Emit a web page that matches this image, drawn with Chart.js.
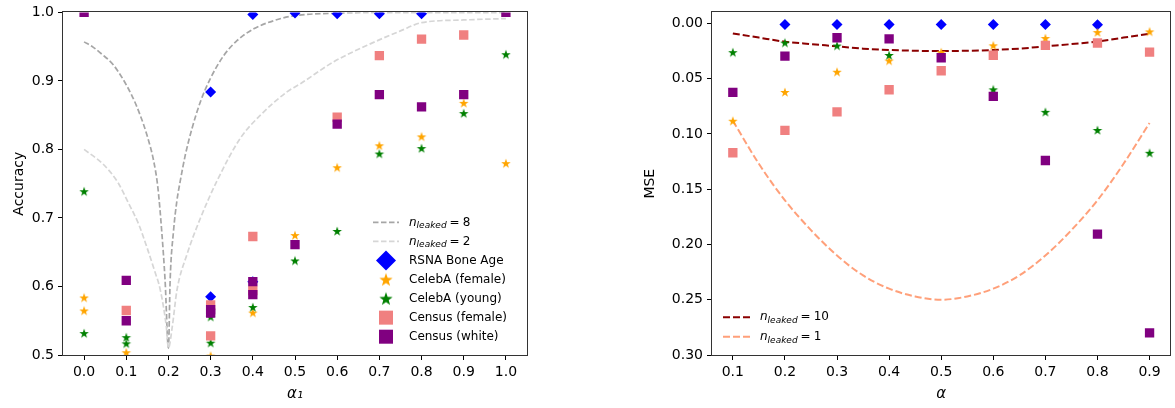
<!DOCTYPE html>
<html>
<head>
<meta charset="utf-8">
<script src="https://cdn.jsdelivr.net/npm/chart.js@4.4.1/dist/chart.umd.min.js"></script>
<style>
  body { margin: 0; background: #fff; width: 1175px; height: 408px; overflow: hidden; position: relative; }
  canvas { position: absolute; top: 0; }
  #acc { left: 0; }
  #mse { left: 630px; }
</style>
</head>
<body>
<canvas id="acc" width="540" height="408"></canvas>
<canvas id="mse" width="547" height="408"></canvas>
<script>
// ---- left panel: accuracy vs alpha_1 ----
const accTicksX = [0.0, 0.1, 0.2, 0.3, 0.4, 0.5, 0.6, 0.7, 0.8, 0.9, 1.0];
const accTicksY = [0.5, 0.6, 0.7, 0.8, 0.9, 1.0];
const seriesNames = ['RSNA Bone Age', 'CelebA (female)', 'CelebA (young)', 'Census (female)', 'Census (white)'];
const nLeakedLeft = [8, 2];
const nLeakedRight = [10, 1];

const curve8X = [0, 0.022, 0.046, 0.07, 0.113, 0.133, 0.149, 0.165, 0.175, 0.184, 0.192, 0.2, 0.204, 0.212, 0.22, 0.228, 0.24, 0.256, 0.276, 0.299, 0.331, 0.363, 0.402, 0.45, 0.497, 0.6, 0.7, 0.8, 0.9, 1.0];
const curve8Y = [0.957, 0.949, 0.937, 0.923, 0.879, 0.850, 0.821, 0.783, 0.744, 0.681, 0.609, 0.51, 0.609, 0.681, 0.725, 0.754, 0.792, 0.831, 0.870, 0.903, 0.937, 0.959, 0.976, 0.988, 0.995, 0.999, 1.0, 1.0, 1.0, 1.0];
const curve2X = [0, 0.046, 0.08, 0.105, 0.13, 0.149, 0.166, 0.181, 0.195, 0.2, 0.209, 0.22, 0.244, 0.276, 0.315, 0.37, 0.418, 0.481, 0.513, 0.592, 0.671, 0.75, 0.8, 0.9, 1.0];
const curve2Y = [0.800, 0.778, 0.752, 0.722, 0.690, 0.657, 0.625, 0.594, 0.541, 0.51, 0.541, 0.594, 0.647, 0.700, 0.754, 0.816, 0.850, 0.884, 0.896, 0.928, 0.952, 0.973, 0.985, 0.989, 0.991];

const accRsnaX = [0.3, 0.3, 0.4, 0.4, 0.5, 0.6, 0.7, 0.8];
const accRsnaY = [0.884, 0.585, 0.997, 0.607, 0.999, 0.998, 0.998, 0.998];
const accCelebFX = [0.0, 0.0, 0.1, 0.3, 0.4, 0.5, 0.6, 0.7, 0.8, 0.9, 1.0];
const accCelebFY = [0.584, 0.565, 0.504, 0.499, 0.562, 0.675, 0.774, 0.806, 0.819, 0.868, 0.780];
const accCelebYX = [0.0, 0.0, 0.1, 0.1, 0.3, 0.3, 0.4, 0.5, 0.6, 0.7, 0.8, 0.9, 1.0];
const accCelebYY = [0.739, 0.532, 0.526, 0.517, 0.556, 0.518, 0.570, 0.638, 0.681, 0.794, 0.802, 0.853, 0.939];
const accCensusFX = [0.1, 0.3, 0.3, 0.4, 0.4, 0.6, 0.7, 0.8, 0.9];
const accCensusFY = [0.565, 0.573, 0.528, 0.673, 0.594, 0.847, 0.937, 0.961, 0.967];
const accCensusWX = [0.0, 0.1, 0.1, 0.3, 0.3, 0.4, 0.4, 0.5, 0.6, 0.7, 0.8, 0.9, 1.0];
const accCensusWY = [1.0, 0.609, 0.550, 0.566, 0.561, 0.607, 0.588, 0.661, 0.837, 0.880, 0.862, 0.880, 1.0];

// ---- right panel: MSE vs alpha ----
const mseTicksX = [0.1, 0.2, 0.3, 0.4, 0.5, 0.6, 0.7, 0.8, 0.9];
const mseTicksY = [0.00, 0.05, 0.10, 0.15, 0.20, 0.25, 0.30];
const mseCurveX = [0.1, 0.15, 0.2, 0.25, 0.3, 0.35, 0.4, 0.45, 0.5, 0.55, 0.6, 0.65, 0.7, 0.75, 0.8, 0.85, 0.9];
const mseCurve10 = [0.009, 0.0128, 0.0165, 0.0187, 0.0207, 0.0228, 0.024, 0.0247, 0.025, 0.0247, 0.024, 0.0228, 0.0207, 0.0187, 0.0163, 0.0128, 0.0093];
const mseCurve1 = [0.088, 0.127, 0.16, 0.187, 0.21, 0.228, 0.24, 0.247, 0.25, 0.247, 0.24, 0.228, 0.21, 0.187, 0.16, 0.127, 0.09];

const mseRsnaX = [0.2, 0.3, 0.4, 0.5, 0.6, 0.7, 0.8];
const mseRsnaY = [0.001, 0.001, 0.001, 0.001, 0.001, 0.001, 0.0012];
const mseCelebFX = [0.1, 0.2, 0.3, 0.4, 0.5, 0.6, 0.7, 0.8, 0.9];
const mseCelebFY = [0.088, 0.062, 0.0437, 0.0335, 0.026, 0.0198, 0.0132, 0.0078, 0.0072];
const mseCelebYX = [0.1, 0.2, 0.3, 0.4, 0.6, 0.7, 0.8, 0.9];
const mseCelebYY = [0.026, 0.0173, 0.020, 0.0285, 0.0596, 0.080, 0.0964, 0.117];
const mseCensusFX = [0.1, 0.2, 0.3, 0.4, 0.5, 0.6, 0.7, 0.8, 0.9];
const mseCensusFY = [0.117, 0.0967, 0.080, 0.060, 0.0428, 0.0288, 0.0198, 0.0177, 0.026];
const mseCensusWX = [0.1, 0.2, 0.3, 0.4, 0.5, 0.6, 0.7, 0.8, 0.9];
const mseCensusWY = [0.0623, 0.0296, 0.0129, 0.014, 0.031, 0.066, 0.124, 0.1907, 0.280];

Chart.defaults.font.family = "'DejaVu Sans', sans-serif";
Chart.defaults.font.size = 14;
Chart.defaults.color = '#000';

const BLUE = '#0000ff', ORANGE = '#ffa500', GREEN = '#008000', PINK = '#f08080', PURPLE = '#800080';

function starImage(r, color) {
  const c = document.createElement('canvas');
  const s = Math.ceil(2 * r + 2);
  c.width = s; c.height = s;
  const g = c.getContext('2d');
  g.fillStyle = color;
  g.beginPath();
  for (let i = 0; i < 10; i++) {
    const rr = i % 2 ? r * 0.4 : r;
    const a = -Math.PI / 2 + i * Math.PI / 5;
    const px = s / 2 + rr * Math.cos(a), py = s / 2 + 0.6 + rr * Math.sin(a);
    if (i) g.lineTo(px, py); else g.moveTo(px, py);
  }
  g.closePath();
  g.fill();
  return c;
}
const starO = starImage(5, ORANGE), starG = starImage(5, GREEN);
const starOBig = starImage(7, ORANGE), starGBig = starImage(7, GREEN);

function pts(xs, ys) { return xs.map((x, i) => ({ x: x, y: ys[i] })); }

const frame = {
  id: 'frame',
  afterDatasetsDraw(chart) {
    const { ctx, chartArea: a } = chart;
    ctx.save();
    ctx.strokeStyle = '#333';
    ctx.lineWidth = 1;
    ctx.strokeRect(Math.round(a.left) - 0.5, Math.round(a.top) - 0.5, Math.round(a.right - a.left) + 1, Math.round(a.bottom - a.top) + 1);
    ctx.restore();
  }
};

function leakedLabel(ctx, x, y, n) {
  ctx.fillStyle = '#000';
  ctx.textAlign = 'left';
  ctx.textBaseline = 'middle';
  ctx.font = "italic 12px 'DejaVu Sans'";
  ctx.fillText('n', x, y);
  x += ctx.measureText('n').width;
  ctx.font = "italic 9px 'DejaVu Sans'";
  ctx.fillText('leaked', x, y + 3.5);
  x += ctx.measureText('leaked').width + 3;
  ctx.font = "12px 'DejaVu Sans'";
  ctx.fillText('=', x, y);
  x += ctx.measureText('=').width + 3;
  ctx.fillText(String(n), x, y);
}

function legend(id, entries, hx0, hx1, tx, y0, dy) {
  return {
    id: id,
    afterDraw(chart) {
      const ctx = chart.ctx;
      const hc = (hx0 + hx1) / 2;
      ctx.save();
      entries.forEach((e, i) => {
        const y = y0 + i * dy;
        if (e.kind === 'line') {
          ctx.strokeStyle = e.color;
          ctx.lineWidth = e.width;
          ctx.setLineDash(e.dash);
          ctx.beginPath();
          ctx.moveTo(hx0, y); ctx.lineTo(hx1, y);
          ctx.stroke();
          ctx.setLineDash([]);
          leakedLabel(ctx, tx, y, e.n);
          return;
        }
        ctx.fillStyle = e.color;
        if (e.kind === 'diamond') {
          ctx.beginPath();
          ctx.moveTo(hc - 10, y); ctx.lineTo(hc, y - 10); ctx.lineTo(hc + 10, y); ctx.lineTo(hc, y + 10);
          ctx.closePath(); ctx.fill();
        } else if (e.kind === 'square') {
          ctx.fillRect(hc - 7, y - 7, 14, 14);
        } else {
          ctx.drawImage(e.img, hc - e.img.width / 2, y - e.img.height / 2);
        }
        ctx.fillStyle = '#000';
        ctx.font = "12px 'DejaVu Sans'";
        ctx.textAlign = 'left';
        ctx.textBaseline = 'middle';
        ctx.fillText(e.label, tx, y);
      });
      ctx.restore();
    }
  };
}

function axisOpts(min, max, ticks, digits, fitSize, horizontal, title, titleFont, titlePad) {
  return {
    type: 'linear', min: min, max: max,
    afterBuildTicks: s => { s.ticks = ticks.map(v => ({ value: v })); },
    afterFit: s => { if (horizontal) s.height = fitSize; else s.width = fitSize; },
    grid: { drawOnChartArea: false, drawTicks: true, tickLength: 5, tickColor: '#000', tickWidth: 1 },
    border: { display: false },
    ticks: { padding: 4, autoSkip: false, maxRotation: 0, callback: v => Number(v).toFixed(digits) },
    title: { display: true, text: title, font: titleFont, padding: titlePad }
  };
}

const dashedGray = { type: 'line', pointRadius: 0, borderDash: [5.5, 2.5], borderWidth: 1.7, cubicInterpolationMode: 'monotone', fill: false };

new Chart(document.getElementById('acc'), {
  type: 'scatter',
  data: {
    datasets: [
      Object.assign({ label: 'n8', data: pts(curve8X, curve8Y), borderColor: '#a6a6a6', order: 6 }, dashedGray),
      Object.assign({ label: 'n2', data: pts(curve2X, curve2Y), borderColor: '#d6d6d6', order: 5 }, dashedGray),
      { label: seriesNames[0], data: pts(accRsnaX, accRsnaY), pointStyle: 'rectRot', pointRadius: 5.5, backgroundColor: BLUE, borderWidth: 0, order: 4 },
      { label: seriesNames[1], data: pts(accCelebFX, accCelebFY), pointStyle: starO, order: 3 },
      { label: seriesNames[2], data: pts(accCelebYX, accCelebYY), pointStyle: starG, order: 2 },
      { label: seriesNames[3], data: pts(accCensusFX, accCensusFY), pointStyle: 'rect', pointRadius: 6.6, backgroundColor: PINK, borderWidth: 0, order: 1 },
      { label: seriesNames[4], data: pts(accCensusWX, accCensusWY), pointStyle: 'rect', pointRadius: 6.6, backgroundColor: PURPLE, borderWidth: 0, order: 0 }
    ]
  },
  options: {
    responsive: false, animation: false, events: [],
    layout: { padding: { left: 0, top: 10, right: 13, bottom: 0 } },
    plugins: { legend: { display: false }, tooltip: { enabled: false } },
    scales: {
      x: axisOpts(-0.05, 1.05, accTicksX, 1, 53, true, 'α₁', { size: 15, style: 'italic' }, { top: 0, bottom: 5 }),
      y: axisOpts(0.5, 1.0, accTicksY, 1, 63, false, 'Accuracy', { size: 14 }, { top: 11, bottom: 0 })
    }
  },
  plugins: [frame, legend('accLegend', [
    { kind: 'line', color: '#a6a6a6', width: 1.7, dash: [5.5, 2.5], n: nLeakedLeft[0] },
    { kind: 'line', color: '#d6d6d6', width: 1.7, dash: [5.5, 2.5], n: nLeakedLeft[1] },
    { kind: 'diamond', color: BLUE, label: seriesNames[0] },
    { kind: 'star', img: starOBig, label: seriesNames[1] },
    { kind: 'star', img: starGBig, label: seriesNames[2] },
    { kind: 'square', color: PINK, label: seriesNames[3] },
    { kind: 'square', color: PURPLE, label: seriesNames[4] }
  ], 373, 399, 409, 222.4, 19.05)]
});

const dashedMse = { type: 'line', pointRadius: 0, borderDash: [7, 3], borderWidth: 2, cubicInterpolationMode: 'monotone', fill: false };

new Chart(document.getElementById('mse'), {
  type: 'scatter',
  data: {
    datasets: [
      Object.assign({ label: 'n10', data: pts(mseCurveX, mseCurve10), borderColor: '#8b0000', order: 6 }, dashedMse),
      Object.assign({ label: 'n1', data: pts(mseCurveX, mseCurve1), borderColor: '#ffa07a', order: 5 }, dashedMse),
      { label: seriesNames[0], data: pts(mseRsnaX, mseRsnaY), pointStyle: 'rectRot', pointRadius: 5.5, backgroundColor: BLUE, borderWidth: 0, order: 4 },
      { label: seriesNames[1], data: pts(mseCelebFX, mseCelebFY), pointStyle: starO, order: 3 },
      { label: seriesNames[2], data: pts(mseCelebYX, mseCelebYY), pointStyle: starG, order: 2 },
      { label: seriesNames[3], data: pts(mseCensusFX, mseCensusFY), pointStyle: 'rect', pointRadius: 6.6, backgroundColor: PINK, borderWidth: 0, order: 1 },
      { label: seriesNames[4], data: pts(mseCensusWX, mseCensusWY), pointStyle: 'rect', pointRadius: 6.6, backgroundColor: PURPLE, borderWidth: 0, order: 0 }
    ]
  },
  options: {
    responsive: false, animation: false, events: [],
    layout: { padding: { left: 0, top: 10, right: 0, bottom: 0 } },
    plugins: { legend: { display: false }, tooltip: { enabled: false } },
    scales: {
      x: axisOpts(0.06, 0.94, mseTicksX, 1, 53, true, 'α', { size: 15, style: 'italic' }, { top: 0, bottom: 5 }),
      y: Object.assign(axisOpts(-0.01, 0.30, mseTicksY, 2, 82, false, 'MSE', { size: 14 }, { top: 11.5, bottom: 0 }), { reverse: true })
    }
  },
  plugins: [frame, legend('mseLegend', [
    { kind: 'line', color: '#8b0000', width: 2, dash: [7, 3], n: nLeakedRight[0] },
    { kind: 'line', color: '#ffa07a', width: 2, dash: [7, 3], n: nLeakedRight[1] }
  ], 93, 120, 130, 317.3, 19.4)]
});
</script>
</body>
</html>
